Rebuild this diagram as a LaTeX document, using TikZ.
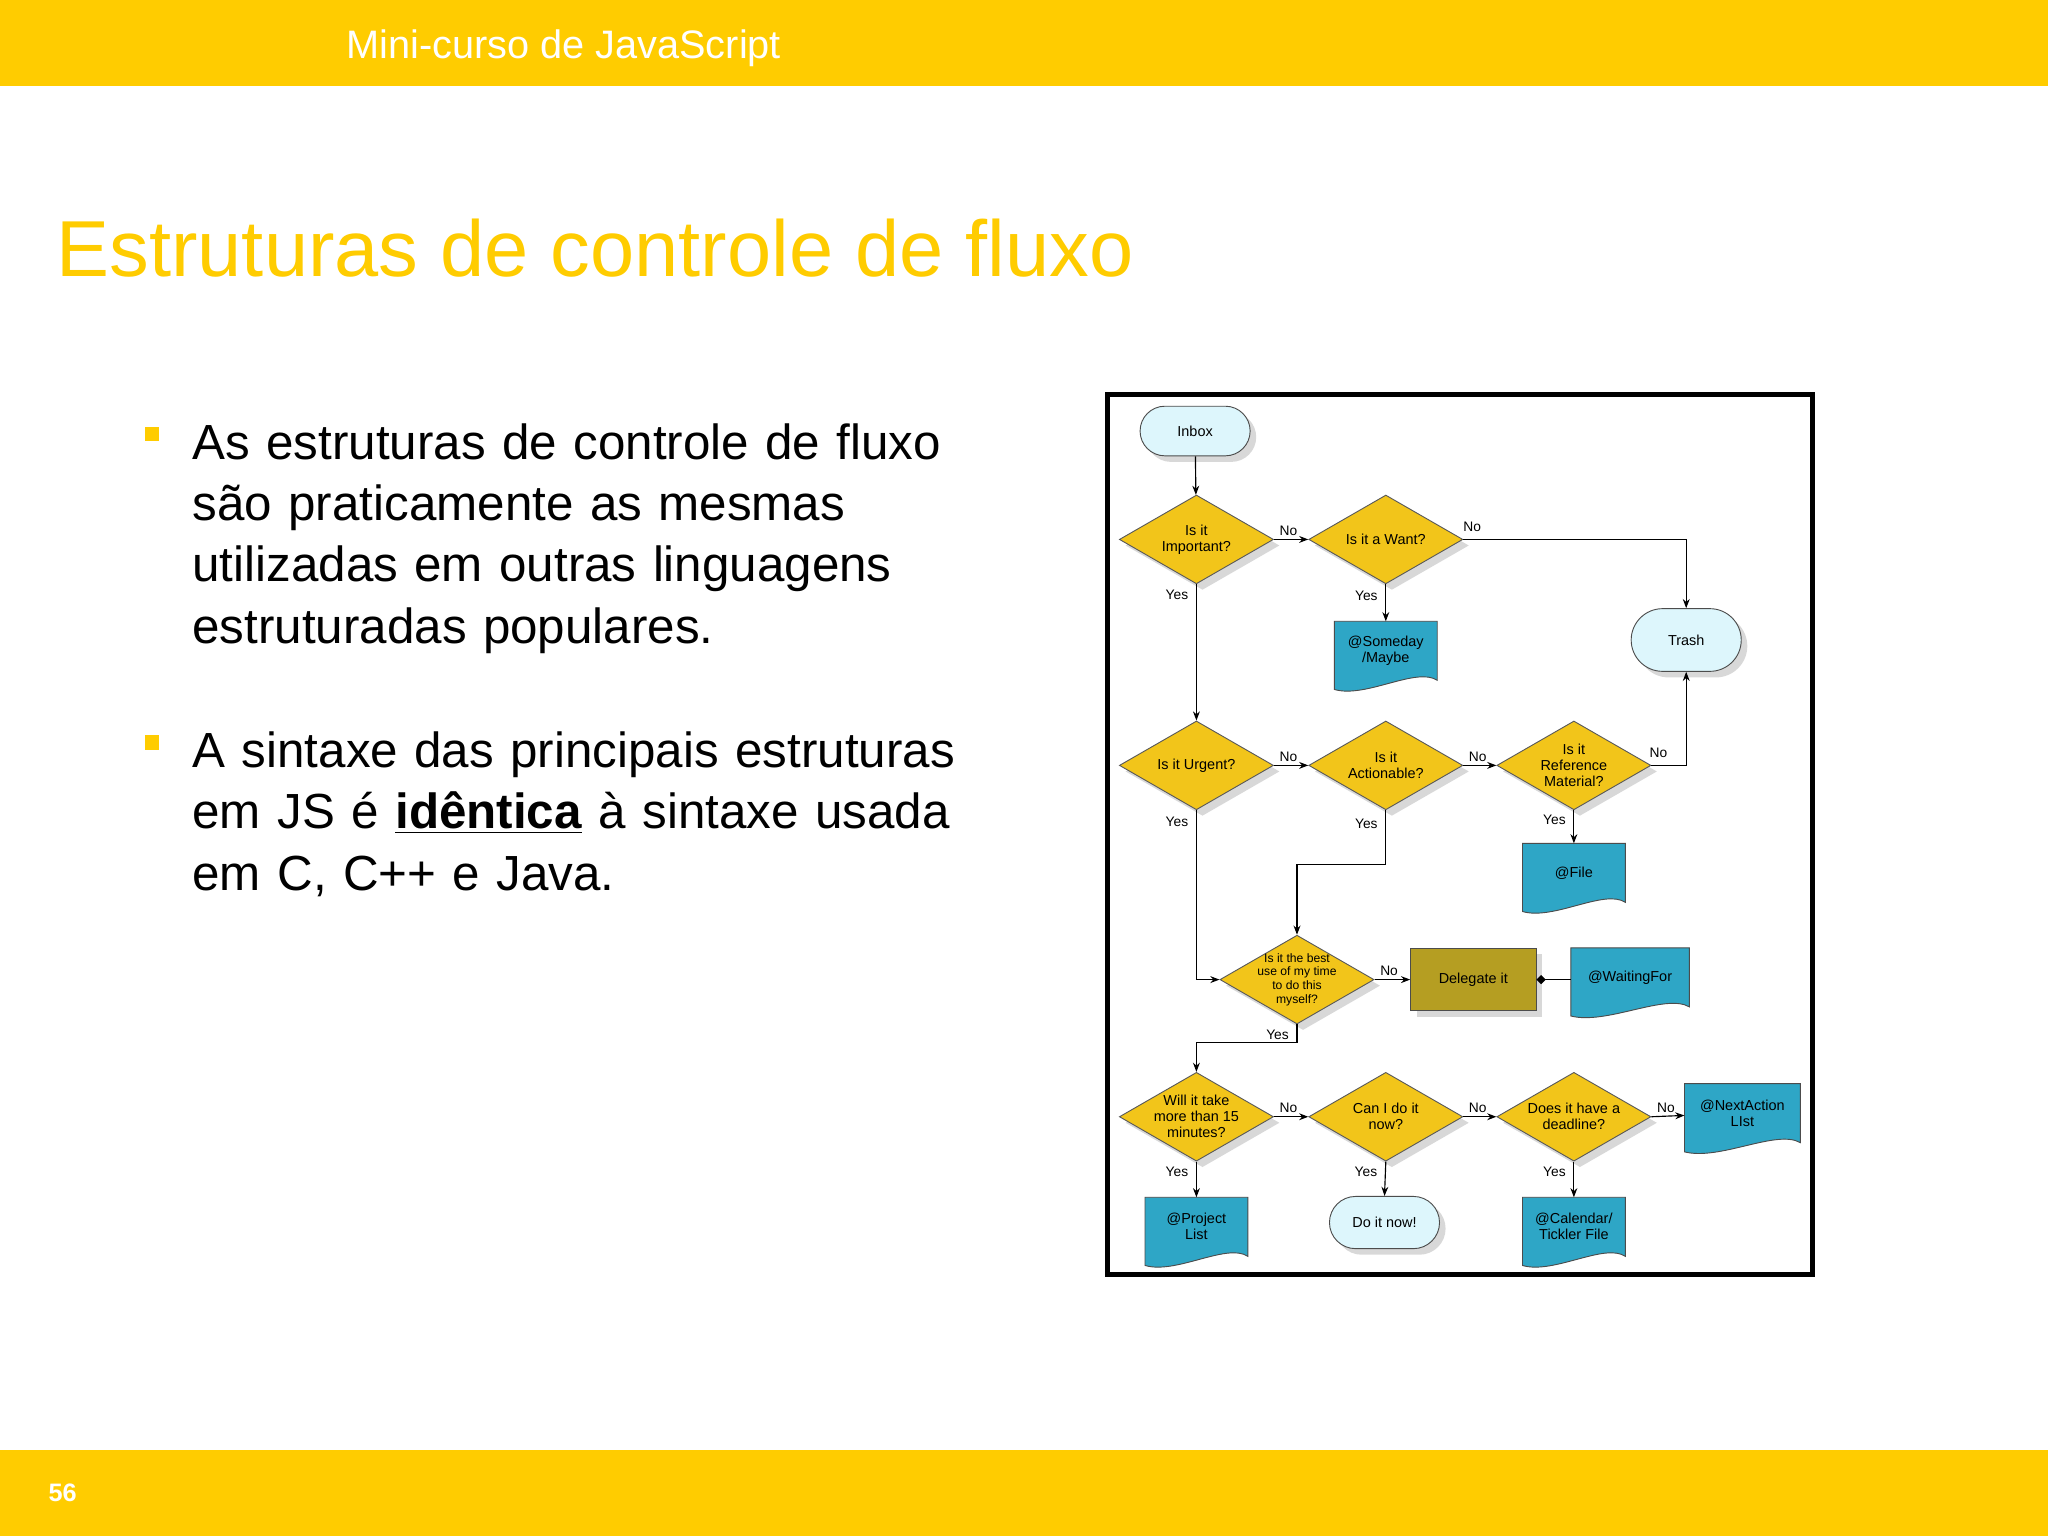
\documentclass[tikz,border=0pt]{standalone}
\usepackage{fontspec}
\setmainfont{Liberation Sans}
\usetikzlibrary{shapes.geometric,shapes.misc,arrows.meta,shadows}
\definecolor{gold}{HTML}{FFCC00}
\definecolor{dyel}{HTML}{F2C51A}
\definecolor{lcyan}{HTML}{DDF6FC}
\definecolor{docblue}{HTML}{2EA6C6}
\definecolor{olive}{HTML}{B59E22}
\tikzset{
 fc/.style={font=\fontsize{6.3}{7}\selectfont, align=center},
 dia/.style={diamond, draw=gray!70!black, fill=dyel, minimum width=2.36cm, minimum height=1.36cm, inner sep=0pt, drop shadow={opacity=0.3}},
 term/.style={fc, rounded rectangle, draw=gray!60!black, fill=lcyan, minimum width=1.92cm, minimum height=0.76cm, drop shadow={opacity=0.3}},
 dochold/.style={fc, minimum width=1.56cm, minimum height=0.96cm, inner sep=1pt},
 ed/.style={-{Stealth[length=4pt,width=3pt]}, black, line width=0.5pt},
 lab/.style={font=\fontsize{6}{7}\selectfont},
 nlab/.style={lab, pos=0.05, above right, inner sep=1.5pt},
 body/.style={font=\fontsize{21.5}{26.7}\selectfont, anchor=north west, align=left, text width=13cm}
}
\newcommand{\dianode}[4]{% name, x, y, text
 \node[dia] (#1) at (#2,#3) {};
 \node[fc] at (#1.center) {#4};
}
\newcommand{\docnode}[5]{% name, x, y, width(px), text
 \node[dochold, minimum width=#4*0.02cm] (#1) at (#2,#3) {};
 \fill[black!35, opacity=0.5, xshift=2pt, yshift=-2pt] (#1.north west) -- (#1.north east) -- ([yshift=2pt]#1.south east) .. controls ([xshift=0.3*#4*0.02cm, yshift=8pt]#1.south) and ([xshift=-0.2*#4*0.02cm, yshift=-6pt]#1.south) .. ([yshift=-2pt]#1.south west) -- cycle;
 \draw[fill=docblue, draw=gray!60!black] (#1.north west) -- (#1.north east) -- ([yshift=2pt]#1.south east) .. controls ([xshift=0.3*#4*0.02cm, yshift=8pt]#1.south) and ([xshift=-0.2*#4*0.02cm, yshift=-6pt]#1.south) .. ([yshift=-2pt]#1.south west) -- cycle;
 \node[fc] at ([yshift=1pt]#1.center) {#5};
}
\begin{document}
\begin{tikzpicture}[x=0.02cm,y=-0.02cm]
\useasboundingbox (0,0) rectangle (1568,1176);
\fill[white] (0,0) rectangle (1568,1176);
\fill[gold] (0,0) rectangle (1568,66);
\fill[gold] (0,1110) rectangle (1568,1176);
\node[anchor=west, white, font=\fontsize{17.3}{19}\selectfont] (top) at (259,37) {Mini-curso de JavaScript};
\node[anchor=west, white, font=\bfseries\fontsize{11}{12}\selectfont] (pg) at (31,1143) {56};
\node[anchor=base west, text=gold, font=\fontsize{34.6}{40}\selectfont, inner sep=0] (ttl) at (43,212) {Estruturas de controle de fluxo};
\fill[gold] (111,327) rectangle (122,338);
\fill[gold] (111,563) rectangle (122,574);
\node[body, inner sep=0] (b1) at (147,324) {As estruturas de controle de fluxo\\são praticamente as mesmas\\utilizadas em outras linguagens\\estruturadas populares.};
\node[body, inner sep=0] (b2) at (147,560) {A sintaxe das principais estruturas\\em JS é \underline{\textbf{idêntica}} à sintaxe usada\\em C, C++ e Java.};
% frame
\draw[line width=2.2pt] (848,302) rectangle (1388,976);
% nodes
\node[term] (inbox) at (915,330) {Inbox};
\dianode{d1}{916}{413}{Is it\\Important?}
\dianode{d2}{1061}{413}{Is it a Want?}
\node[term, minimum height=0.96cm] (trash) at (1291,490) {Trash};
\docnode{some}{1061}{500}{78}{@Someday\\/Maybe}
\dianode{d3}{916}{586}{Is it Urgent?}
\dianode{d4}{1061}{586}{Is it\\Actionable?}
\dianode{d5}{1205}{586}{Is it\\Reference\\Material?}
\docnode{file}{1205}{670}{78}{@File}
\node[dia] (d6) at (993,750) {};
\node[fc, font=\fontsize{5.3}{6}\selectfont] at (d6.center) {Is it the best\\use of my time\\to do this\\myself?};
\node[fc, draw=gray!60!black, fill=olive, minimum width=1.92cm, minimum height=0.96cm, drop shadow={opacity=0.3}] (dlg) at (1128,750) {Delegate it};
\docnode{wait}{1248}{750}{90}{@WaitingFor}
\dianode{d7}{916}{855}{Will it take\\more than 15\\minutes?}
\dianode{d8}{1061}{855}{Can I do it\\now?}
\dianode{d9}{1205}{855}{Does it have a\\deadline?}
\docnode{next}{1334}{854}{88}{@NextAction\\LIst}
\docnode{proj}{916}{941}{78}{@Project\\List}
\node[term, minimum height=0.8cm] (now) at (1060,936) {Do it now!};
\docnode{cal}{1205}{941}{78}{@Calendar/\\Tickler File}
% edges
\draw[ed] (inbox) -- (d1);
\draw[ed] (d1.east) -- node[nlab]{No} (d2.west);
\draw[ed] (d2.east) -- node[lab, pos=0.04, above]{No} (1291,413) -- (trash.north);
\draw[ed] (d2.south) -- node[lab, left, pos=0.3]{Yes} (some.north);
\draw[ed] (d1.south) -- node[lab, left, pos=0.08]{Yes} (d3.north);
\draw[ed] (d3.east) -- node[nlab]{No} (d4.west);
\draw[ed] (d4.east) -- node[nlab]{No} (d5.west);
\draw[ed] (d5.east) -- node[lab, pos=0.2, above]{No} (1291,586) -- (trash.south);
\draw[ed] (d5.south) -- node[lab, left, pos=0.3]{Yes} (file.north);
\draw[ed] (d4.south) -- node[lab, left, pos=0.25]{Yes} (1061,662) -- (993,662) -- (d6.north);
\draw[ed] (d3.south) -- node[lab, left, pos=0.07]{Yes} (916,750) -- (d6.west);
\draw[ed] (d6.east) -- node[nlab]{No} (dlg.west);
\draw[-{Stealth[length=4pt,width=3pt]}, {Diamond[length=4pt,width=4pt]}-, black, line width=0.5pt] (dlg.east) -- (wait.west);
\draw[ed] (d6.south) -- node[lab, left, pos=0.6]{Yes} (993,798) -- (916,798) -- (d7.north);
\draw[ed] (d7.east) -- node[nlab]{No} (d8.west);
\draw[ed] (d8.east) -- node[nlab]{No} (d9.west);
\draw[ed] (d9.east) -- node[nlab]{No} (next.west);
\draw[ed] (d7.south) -- node[lab, left, pos=0.3]{Yes} (proj.north);
\draw[ed] (d8.south) -- node[lab, left, pos=0.3]{Yes} (now.north);
\draw[ed] (d9.south) -- node[lab, left, pos=0.3]{Yes} (cal.north);
\end{tikzpicture}
\end{document}
